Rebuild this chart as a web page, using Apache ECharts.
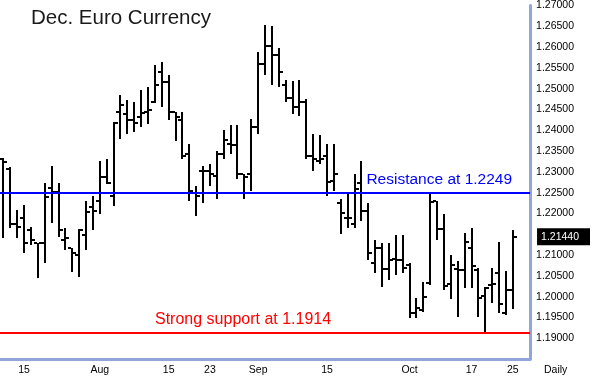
<!DOCTYPE html>
<html>
<head>
<meta charset="utf-8">
<script src="https://cdn.jsdelivr.net/npm/echarts@6/dist/echarts.min.js"></script>
<style>
html,body{margin:0;padding:0;background:#ffffff;}
#chart{width:593px;height:379px;}
</style>
</head>
<body>
<div id="chart"></div>
<script>
// Trading days (Dec. Euro Currency futures, 2005), plus two empty slots on the right
const categories = [
'2005-07-12','2005-07-13','2005-07-14','2005-07-15','2005-07-18','2005-07-19','2005-07-20','2005-07-21','2005-07-22',
'2005-07-25','2005-07-26','2005-07-27','2005-07-28','2005-07-29',
'2005-08-01','2005-08-02','2005-08-03','2005-08-04','2005-08-05',
'2005-08-08','2005-08-09','2005-08-10','2005-08-11','2005-08-12',
'2005-08-15','2005-08-16','2005-08-17','2005-08-18','2005-08-19',
'2005-08-22','2005-08-23','2005-08-24','2005-08-25','2005-08-26',
'2005-08-29','2005-08-30','2005-08-31','2005-09-01','2005-09-02',
'2005-09-05','2005-09-06','2005-09-07','2005-09-08','2005-09-09',
'2005-09-12','2005-09-13','2005-09-14','2005-09-15','2005-09-16',
'2005-09-19','2005-09-20','2005-09-21','2005-09-22','2005-09-23',
'2005-09-26','2005-09-27','2005-09-28','2005-09-29','2005-09-30',
'2005-10-03','2005-10-04','2005-10-05','2005-10-06','2005-10-07',
'2005-10-11','2005-10-12','2005-10-13','2005-10-14',
'2005-10-17','2005-10-18','2005-10-19','2005-10-20','2005-10-21',
'2005-10-24','2005-10-25','',''
];

const openV = [1.2330,1.2308,1.2175,1.2189,1.2159,1.2128,1.2128,1.2261,1.2251,1.2135,
1.2116,1.2099,1.2147,1.2216,1.2230,1.2287,1.2242,1.2444,1.2439,1.2425,
1.2432,1.2444,1.2468,1.2539,1.2515,1.2444,1.2425,1.2342,1.2249,1.2301,
1.2301,1.2289,1.2342,1.2368,1.2365,1.2294,1.2294,1.2408,1.2560,1.2603,
1.2582,1.2510,1.2477,1.2456,1.2468,1.2337,1.2327,1.2337,1.2277,1.2225,
1.2189,1.2175,1.2273,1.2206,1.2080,1.2118,1.2066,1.2090,1.2087,1.2075,
1.1961,1.1968,1.2032,1.2230,1.2163,1.2030,1.2066,1.2063,1.2118,1.2063,
1.2002,1.2028,1.2056,1.1961,1.2016];

const highV = [1.2334,1.2311,1.2208,1.2220,1.2168,1.2130,1.2273,1.2315,1.2273,1.2166,
1.2116,1.2163,1.2230,1.2242,1.2325,1.2332,1.2420,1.2484,1.2472,1.2468,
1.2496,1.2503,1.2556,1.2563,1.2532,1.2444,1.2444,1.2368,1.2266,1.2313,
1.2320,1.2351,1.2401,1.2413,1.2413,1.2296,1.2427,1.2589,1.2653,1.2651,
1.2598,1.2520,1.2518,1.2522,1.2475,1.2392,1.2389,1.2368,1.2368,1.2235,
1.2247,1.2296,1.2325,1.2225,1.2135,1.2130,1.2130,1.2147,1.2147,1.2082,
1.1997,1.2035,1.2250,1.2230,1.2199,1.2099,1.2085,1.2154,1.2166,1.2068,
1.2023,1.2068,1.2132,1.2061,1.2161];

const lowV = [1.2140,1.2166,1.2142,1.2106,1.2123,1.2044,1.2080,1.2178,1.2144,1.2111,
1.2059,1.2047,1.2113,1.2159,1.2199,1.2270,1.2218,1.2380,1.2392,1.2396,
1.2408,1.2415,1.2465,1.2456,1.2425,1.2373,1.2332,1.2230,1.2194,1.2225,
1.2266,1.2235,1.2332,1.2342,1.2282,1.2235,1.2254,1.2392,1.2534,1.2508,
1.2503,1.2468,1.2439,1.2434,1.2330,1.2301,1.2320,1.2242,1.2254,1.2151,
1.2166,1.2166,1.2182,1.2087,1.2056,1.2023,1.2040,1.2052,1.2056,1.1949,
1.1949,1.1963,1.2028,1.2135,1.2016,1.1994,1.1952,1.2021,1.2021,1.1952,
1.1914,1.1985,1.1961,1.1956,1.1971];

const closeV = [1.2323,1.2175,1.2168,1.2130,1.2137,1.2128,1.2239,1.2251,1.2159,1.2140,
1.2106,1.2159,1.2204,1.2206,1.2287,1.2273,1.2418,1.2461,1.2425,1.2418,
1.2442,1.2449,1.2510,1.2515,1.2444,1.2432,1.2337,1.2254,1.2242,1.2301,
1.2296,1.2342,1.2377,1.2365,1.2294,1.2287,1.2408,1.2560,1.2603,1.2582,
1.2539,1.2477,1.2456,1.2468,1.2337,1.2330,1.2330,1.2275,1.2296,1.2201,
1.2189,1.2258,1.2206,1.2106,1.2118,1.2066,1.2087,1.2087,1.2068,1.1961,
1.1973,1.1999,1.2227,1.2163,1.2025,1.2075,1.2063,1.2132,1.2073,1.1997,
1.2021,1.2030,1.1983,1.2016,1.2144];

const xTickDates = ['2005-07-15','2005-08-01','2005-08-15','2005-08-23','2005-09-01','2005-09-15','2005-10-03','2005-10-17','2005-10-25'];
const xTickText  = ['15','Aug','15','23','Sep','15','Oct','17','25'];

const yTickLabels = ['1.27000','1.26500','1.26000','1.25500','1.25000','1.24500','1.24000','1.23500',
  '1.23000','1.22500','1.22000','1.21000','1.20500','1.20000','1.19500','1.19000'];

const resistanceLevel = 1.2249;
const supportLevel = 1.1914;
const resistanceText = 'Resistance at 1.2249';
const supportText = 'Strong support at 1.1914';
const titleText = 'Dec. Euro Currency';
const periodText = 'Daily';
const lastClose = closeV[closeV.length - 1];

const FONT = 'Liberation Sans';
const AXIS_COLOR = '#8fa5dc';
const Y_MIN = 1.185, Y_MAX = 1.27;

const ohlc = openV.map((o, i) => [i, o, highV[i], lowV[i], closeV[i]]);

const chart = echarts.init(document.getElementById('chart'), null, {renderer: 'canvas'});

chart.setOption({
  backgroundColor: '#ffffff',
  animation: false,
  title: {
    text: titleText, left: 31, top: 8, padding: 0,
    textStyle: {fontFamily: FONT, fontSize: 20.5, fontWeight: 'normal', color: '#1a1a1a'}
  },
  grid: {left: -3, top: 2, width: 541, height: 357, containLabel: false},
  xAxis: {
    type: 'category',
    data: categories,
    boundaryGap: true,
    axisLine: {show: true, lineStyle: {color: AXIS_COLOR, width: 3}},
    axisTick: {show: false},
    splitLine: {show: false},
    axisLabel: {
      interval: (idx, val) => xTickDates.indexOf(val) >= 0,
      formatter: (val) => { const k = xTickDates.indexOf(val); return k >= 0 ? xTickText[k] : ''; },
      fontFamily: FONT, fontSize: 10.5, color: '#000', margin: 6, hideOverlap: false
    }
  },
  yAxis: [{
    type: 'value', position: 'right', min: Y_MIN, max: Y_MAX, scale: true,
    axisLine: {show: true, onZero: false, lineStyle: {color: AXIS_COLOR, width: 3}},
    axisTick: {show: false},
    splitLine: {show: false},
    axisLabel: {
      customValues: yTickLabels.map(Number),
      formatter: (v) => v.toFixed(5),
      fontFamily: FONT, fontSize: 10.5, color: '#000', margin: 6
    }
  }, {
    type: 'value', position: 'right', min: Y_MIN, max: Y_MAX, scale: true,
    axisLine: {show: false}, axisTick: {show: false}, splitLine: {show: false},
    axisLabel: {
      customValues: [lastClose],
      formatter: (v) => v.toFixed(5),
      fontFamily: FONT, fontSize: 10.5, color: '#ffffff',
      backgroundColor: '#000000', padding: [3, 11, 2, 4], lineHeight: 12, margin: 7
    }
  }],
  graphic: [{
    type: 'text', left: 544, top: 365,
    style: {text: periodText, font: '10.5px "Liberation Sans"', fill: '#000'}
  }],
  series: [{
    type: 'custom',
    data: ohlc,
    encode: {x: 0, y: [1, 2, 3, 4]},
    clip: false,
    renderItem: function (params, api) {
      const i = api.value(0);
      const hi = api.coord([i, api.value(2)]);
      const lo = api.coord([i, api.value(3)]);
      const op = api.coord([i, api.value(1)]);
      const cl = api.coord([i, api.value(4)]);
      const cx = Math.round(hi[0]);
      const yh = Math.round(hi[1]), yl = Math.round(lo[1]);
      return {
        type: 'group',
        children: [
          {type: 'rect', shape: {x: cx - 1, y: yh, width: 2, height: Math.max(2, yl - yh)}, style: {fill: '#000'}},
          {type: 'rect', shape: {x: cx - 4, y: Math.round(op[1]) - 1, width: 3, height: 2}, style: {fill: '#000'}},
          {type: 'rect', shape: {x: cx + 1, y: Math.round(cl[1]) - 1, width: 3, height: 2}, style: {fill: '#000'}}
        ]
      };
    }
  }, {
    type: 'line',
    data: [],
    silent: true,
    markLine: {
      silent: true,
      precision: 4,
      symbol: ['none', 'none'],
      animation: false,
      data: [
        {yAxis: resistanceLevel,
         lineStyle: {color: '#0000ff', width: 2, type: 'solid'},
         label: {show: true, position: 'insideEndTop', formatter: resistanceText,
                 color: '#0000ff', fontFamily: FONT, fontSize: 15.5, padding: [0, 13, 0, 0]}},
        {yAxis: supportLevel,
         lineStyle: {color: '#ff0000', width: 2, type: 'solid'},
         label: {show: true, position: 'insideStartTop', formatter: supportText,
                 color: '#ff0000', fontFamily: FONT, fontSize: 16, padding: [0, 0, 0, 150]}}
      ]
    }
  }]
});
</script>
</body>
</html>
